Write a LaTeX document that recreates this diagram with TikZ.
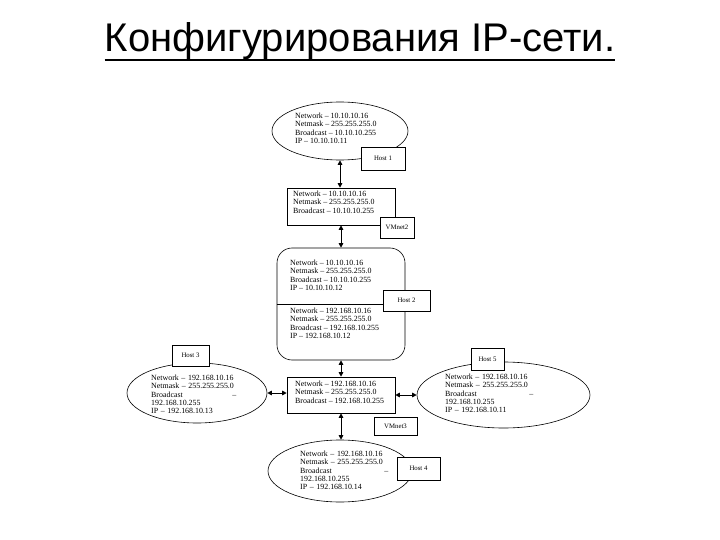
\documentclass[tikz,border=0pt]{standalone}
\usepackage{fontspec}
\setmainfont{Liberation Serif}
\newfontfamily\titlefont{Liberation Sans}
\usetikzlibrary{shapes.geometric,arrows.meta}
\begin{document}
\begin{tikzpicture}[x=1pt,y=-1pt,
  txt/.style={anchor=north west,inner sep=0pt,align=left,font=\fontsize{7.9}{8.2}\selectfont},
  wtxt/.style={txt,text width=#1},
  oval/.style={ellipse,draw,line width=0.6pt,inner sep=0pt},
  sqbox/.style={rectangle,draw,line width=0.6pt,inner sep=0pt},
  lbl/.style={rectangle,draw,fill=white,line width=0.6pt,inner sep=0pt,font=\fontsize{6.8}{8}\selectfont},
  link/.style={line width=1pt,{Triangle[length=4.5pt,width=4.5pt]}-{Triangle[length=4.5pt,width=4.5pt]}}]
\useasboundingbox (0,0) rectangle (720,540);
% title
\node[inner sep=0pt,anchor=base,font=\titlefont\fontsize{40}{44}\selectfont] (title) at (360,52) {Конфигурирования IP-сети.};
\draw[line width=2.5pt] ([yshift=-8pt]title.base west) -- ([yshift=-8pt]title.base east);
% Host 1
\node[oval,minimum width=136pt,minimum height=58pt] (e1) at (340,131) {};
\node[txt] (t1) at (295,113) {Network – 10.10.10.16\\Netmask – 255.255.255.0\\Broadcast – 10.10.10.255\\IP – 10.10.10.11};
\node[lbl,minimum width=44pt,minimum height=23pt] (l1) at (383,158.5) {Host 1};
% VMnet2
\node[sqbox,minimum width=108pt,minimum height=37pt] (v2) at (341,206.5) {};
\node[txt] (t2) at (293,191) {Network – 10.10.10.16\\Netmask – 255.255.255.0\\Broadcast – 10.10.10.255};
\node[lbl,minimum width=34pt,minimum height=21pt] (l2) at (397,227.5) {VMnet2};
% Host 2
\node[sqbox,rounded corners=15pt,minimum width=128pt,minimum height=112pt] (h2) at (341,304) {};
\draw[line width=0.6pt] (h2.west) -- (h2.east);
\node[txt] (t3a) at (290,260) {Network – 10.10.10.16\\Netmask – 255.255.255.0\\Broadcast – 10.10.10.255\\IP – 10.10.10.12};
\node[txt] (t3b) at (290,308) {Network – 192.168.10.16\\Netmask – 255.255.255.0\\Broadcast – 192.168.10.255\\IP – 192.168.10.12};
\node[lbl,minimum width=47pt,minimum height=21pt] (l3) at (406.5,300.5) {Host 2};
% VMnet3
\node[sqbox,minimum width=108pt,minimum height=36pt] (v3) at (341,395) {};
\node[txt] (tv3) at (295,381) {Network – 192.168.10.16\\Netmask – 255.255.255.0\\Broadcast – 192.168.10.255};
\node[lbl,minimum width=43pt,minimum height=18pt] (lv3) at (395.5,426) {VMnet3};
% Host 3
\node[oval,minimum width=140pt,minimum height=60pt] (e3) at (197,393) {};
\node[wtxt=85pt] (t4) at (151,375) {Network – 192.168.10.16\\Netmask – 255.255.255.0\\Broadcast\hfill –\\192.168.10.255\\IP – 192.168.10.13};
\node[lbl,minimum width=37pt,minimum height=21pt] (l4) at (190.5,355.5) {Host 3};
% Host 5
\node[oval,minimum width=173pt,minimum height=66pt] (e5) at (503.5,395) {};
\node[wtxt=88pt] (t5) at (445,374) {Network – 192.168.10.16\\Netmask – 255.255.255.0\\Broadcast\hfill –\\192.168.10.255\\IP – 192.168.10.11};
\node[lbl,minimum width=33pt,minimum height=22pt] (l5) at (487.5,359) {Host 5};
% Host 4
\node[oval,minimum width=144pt,minimum height=62pt] (e6) at (340,471) {};
\node[wtxt=88pt] (t6) at (300,451) {Network – 192.168.10.16\\Netmask – 255.255.255.0\\Broadcast\hfill –\\192.168.10.255\\IP – 192.168.10.14};
\node[lbl,minimum width=43pt,minimum height=23pt] (l6) at (418.5,468.5) {Host 4};
% connectors
\draw[link] (e1.south) -- (e1.south |- v2.north);
\draw[link] (v2.south) -- (v2.south |- h2.north);
\draw[link] (h2.south) -- (h2.south |- v3.north);
\draw[link] (v3.south) -- (v3.south |- e6.north);
\draw[link] (e3.east) -- (e3.east -| v3.west);
\draw[link] (e5.west -| v3.east) -- (e5.west);
\end{tikzpicture}
\end{document}
